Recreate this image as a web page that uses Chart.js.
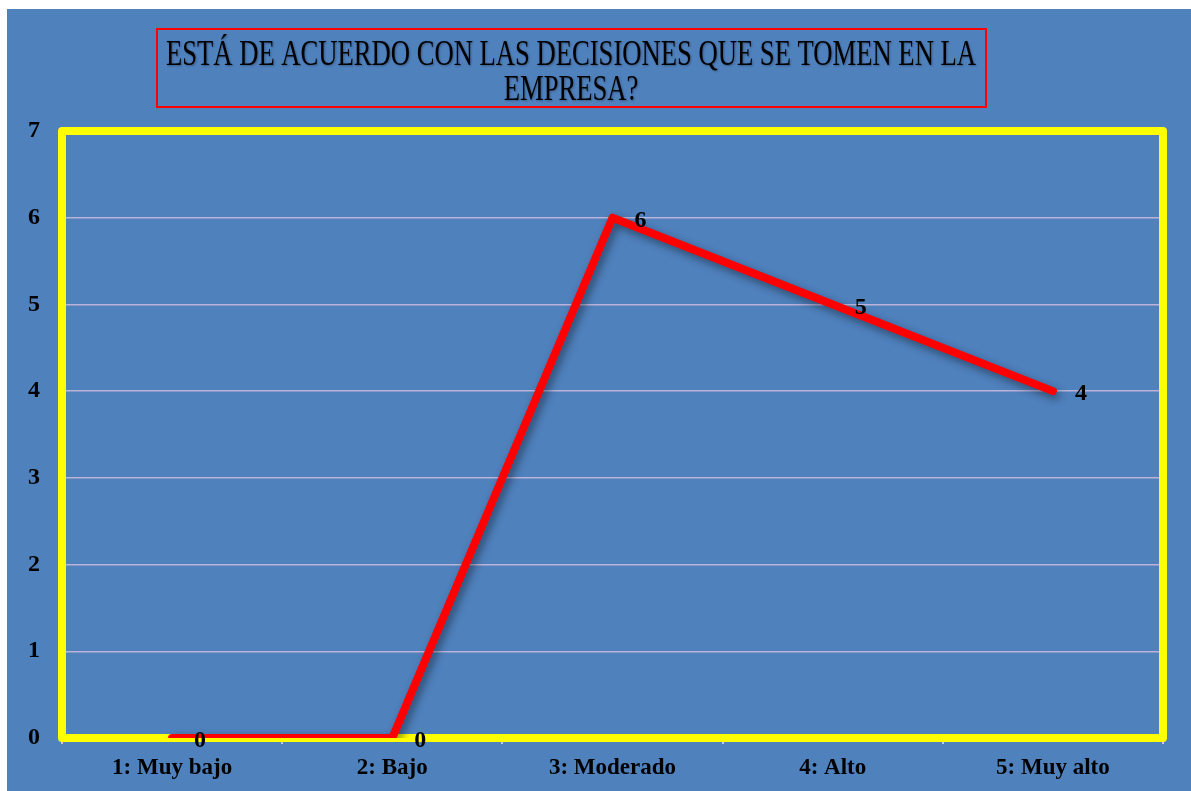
<!DOCTYPE html>
<html>
<head>
<meta charset="utf-8">
<script src="https://cdn.jsdelivr.net/npm/chart.js@4.4.1/dist/chart.umd.min.js"></script>
<style>
  body { margin: 0; background: #fff; }
  #wrap { position: absolute; left: 7px; top: 9px; width: 1184px; height: 782px; background: #4F81BD; }
</style>
</head>
<body>
<div id="wrap"><canvas id="chart"></canvas></div>
<script>
// data
const categories = ['1: Muy bajo', '2: Bajo', '3: Moderado', '4: Alto', '5: Muy alto'];
const values = [0, 0, 6, 5, 4];
const titleLines = ['ESTÁ DE ACUERDO CON LAS DECISIONES QUE SE TOMEN EN LA', 'EMPRESA?'];
const yMax = 7;

const serif = "'Liberation Serif', 'DejaVu Serif', serif";

// title box drawn by hand (condensed text)
const titleBox = {
  id: 'titleBox',
  afterDraw(chart) {
    const ctx = chart.ctx;
    ctx.save();
    ctx.strokeStyle = '#FF0000';
    ctx.lineWidth = 2;
    ctx.strokeRect(150, 20, 829, 78);
    ctx.fillStyle = '#000';
    ctx.font = '35px ' + serif;
    ctx.textAlign = 'center';
    ctx.textBaseline = 'middle';
    const w = ctx.measureText(titleLines[0]).width;
    const sx = 810 / w;
    ctx.shadowColor = 'rgba(0,0,0,0.3)';
    ctx.shadowBlur = 2;
    ctx.shadowOffsetX = 1;
    ctx.shadowOffsetY = 1;
    ctx.translate(564, 0);
    ctx.scale(sx, 1);
    ctx.fillText(titleLines[0], 0, 47);
    ctx.fillText(titleLines[1], 0, 82);
    ctx.restore();
  }
};

// yellow frame around plot area
const frame = {
  id: 'frame',
  beforeDatasetsDraw(chart) {
    const a = chart.chartArea;
    const ctx = chart.ctx;
    ctx.save();
    ctx.strokeStyle = '#FFFF00';
    ctx.lineWidth = 8;
    ctx.lineJoin = 'round';
    ctx.strokeRect(a.left, a.top, a.right - a.left, a.bottom - a.top);
    ctx.restore();
  }
};

// shadow under the line
const lineShadow = {
  id: 'lineShadow',
  beforeDatasetDraw(chart) {
    const ctx = chart.ctx;
    ctx.save();
    ctx.shadowColor = 'rgba(0,0,0,0.45)';
    ctx.shadowBlur = 8;
    ctx.shadowOffsetX = 3;
    ctx.shadowOffsetY = 4;
  },
  afterDatasetDraw(chart) {
    chart.ctx.restore();
  }
};

// value labels right of each point
const valueLabels = {
  id: 'valueLabels',
  afterDatasetsDraw(chart) {
    const ctx = chart.ctx;
    const meta = chart.getDatasetMeta(0);
    ctx.save();
    ctx.fillStyle = '#000';
    ctx.font = 'bold 24px ' + serif;
    ctx.textAlign = 'center';
    ctx.textBaseline = 'middle';
    meta.data.forEach((p, i) => {
      ctx.fillText(String(values[i]), p.x + 28, p.y + 3);
    });
    ctx.restore();
  }
};

new Chart(document.getElementById('chart'), {
  type: 'line',
  data: {
    labels: categories,
    datasets: [{
      data: values,
      borderColor: '#FF0000',
      borderWidth: 8,
      borderCapStyle: 'round',
      borderJoinStyle: 'round',
      pointRadius: 0,
      tension: 0
    }]
  },
  options: {
    responsive: true,
    maintainAspectRatio: false,
    animation: false,
    layout: { padding: { top: 122, right: 28, left: 0, bottom: 0 } },
    plugins: { legend: { display: false }, tooltip: { enabled: false } },
    scales: {
      x: {
        offset: true,
        grid: { offset: true, drawOnChartArea: false, drawTicks: true, tickLength: 6, color: '#C8C8D8', lineWidth: 2 },
        border: { display: false },
        ticks: { color: '#000', font: { family: serif, weight: 'bold', size: 23 }, padding: 10, maxRotation: 0 },
        afterFit(s) { s.height = 53; }
      },
      y: {
        min: 0,
        max: yMax,
        grid: { color: '#BDB2DA', lineWidth: 1.5, drawTicks: false },
        border: { display: false },
        ticks: { stepSize: 1, color: '#000', font: { family: serif, weight: 'bold', size: 24 }, padding: 22 },
        afterFit(s) { s.width = 55; }
      }
    }
  },
  plugins: [titleBox, frame, lineShadow, valueLabels]
});
</script>
</body>
</html>
